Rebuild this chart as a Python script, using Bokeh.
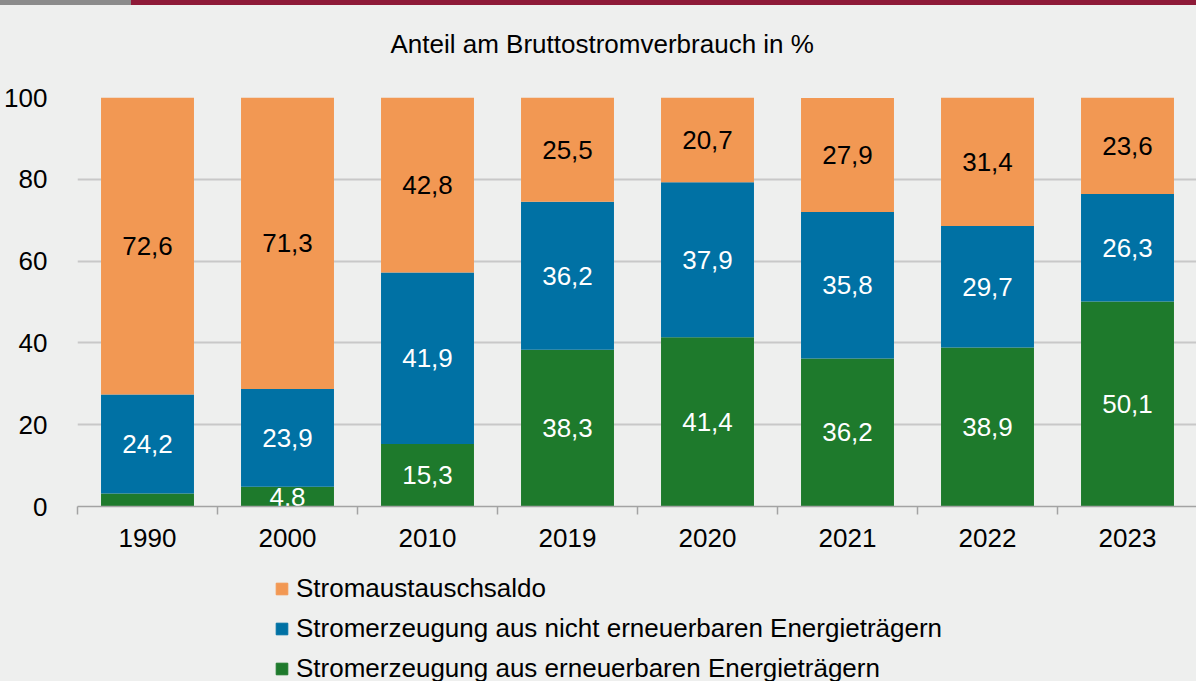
from bokeh.plotting import figure
from bokeh.models import (Range1d, FixedTicker, Legend, LegendItem, ColumnDataSource,
                          Div, Label, GlobalInlineStyleSheet)
from bokeh.layouts import column
from bokeh.embed import file_html
from bokeh.resources import INLINE
from bokeh.core.properties import value

# ---------------- data ----------------
years = ["1990", "2000", "2010", "2019", "2020", "2021", "2022", "2023"]
renewable = [3.2, 4.8, 15.3, 38.3, 41.4, 36.2, 38.9, 50.1]
non_renewable = [24.2, 23.9, 41.9, 36.2, 37.9, 35.8, 29.7, 26.3]
exchange = [72.6, 71.3, 42.8, 25.5, 20.7, 27.9, 31.4, 23.6]
series_names = ["Stromaustauschsaldo",
                "Stromerzeugung aus nicht erneuerbaren Energieträgern",
                "Stromerzeugung aus erneuerbaren Energieträgern"]
title_text = "Anteil am Bruttostromverbrauch in %"
y_ticks = [0, 20, 40, 60, 80, 100]

# ---------------- styles ----------------
BG = "#eeefee"
ORANGE = "#f29853"
BLUE = "#0071a4"
GREEN = "#1e7a2c"
FONT = "Liberation Sans"
FS = "26px"


def blank_fig(h):
    f = figure(width=1196, height=h, x_range=Range1d(0, 1119), y_range=Range1d(0, h),
               output_backend="svg", toolbar_location=None,
               x_axis_type=None, y_axis_type=None,
               min_border_left=0, min_border_right=0, min_border_top=0, min_border_bottom=0,
               background_fill_color=BG, border_fill_color=BG, outline_line_color=None)
    f.xgrid.visible = False
    f.ygrid.visible = False
    return f


# ---------------- title strip ----------------
t = blank_fig(70)
t.add_layout(Label(x=313, y=32, text=title_text, text_font=FONT, text_font_size=FS,
                   text_color="black", text_align="left", text_baseline="middle"))

# ---------------- main chart ----------------
xs = [i + 0.5 for i in range(len(years))]
src = ColumnDataSource(dict(x=xs, years=years, renewable=renewable,
                            non_renewable=non_renewable, exchange=exchange))

p = figure(width=1196, height=485,
           x_range=Range1d(0, 1119 / 140), y_range=Range1d(0, 100),
           output_backend="svg", toolbar_location=None,
           min_border_left=77, min_border_right=0,
           min_border_top=22, min_border_bottom=54,
           background_fill_color=BG, border_fill_color=BG,
           outline_line_color=None)

rs = p.vbar_stack(["renewable", "non_renewable", "exchange"], x="x", width=0.664,
                  color=[GREEN, BLUE, ORANGE], line_color=None, source=src)

# value labels
lx, ly, lt, lc = [], [], [], []
for i in range(len(years)):
    base = 0.0
    for vals, col in ((renewable, "white"), (non_renewable, "white"), (exchange, "black")):
        v = vals[i]
        if v >= 4:
            lx.append(xs[i])
            ly.append(base + v / 2)
            lt.append(f"{v:.1f}".replace(".", ","))
            lc.append(col)
        base += v
lab_src = ColumnDataSource(dict(x=lx, y=ly, text=lt, color=lc))
p.text(x="x", y="y", text="text", text_color="color", source=lab_src,
       text_font=value(FONT), text_font_size=value(FS),
       text_align="center", text_baseline="middle")

# axes
p.yaxis.ticker = FixedTicker(ticks=y_ticks)
p.yaxis.axis_line_color = None
p.yaxis.major_tick_line_color = None
p.yaxis.minor_tick_line_color = None
p.yaxis.major_label_standoff = 24
p.yaxis.major_label_text_font = FONT
p.yaxis.major_label_text_font_size = FS
p.yaxis.major_label_text_color = "black"

p.xaxis.ticker = FixedTicker(ticks=xs, minor_ticks=list(range(len(years))))
p.xaxis.major_label_overrides = {x: y for x, y in zip(xs, years)}
p.xaxis.major_tick_line_color = None
p.xaxis.minor_tick_in = 0
p.xaxis.minor_tick_out = 8
p.xaxis.minor_tick_line_color = "#a3a3a3"
p.xaxis.minor_tick_line_width = 1.5
p.xaxis.axis_line_color = "#a3a3a3"
p.xaxis.axis_line_width = 1.5
p.xaxis.major_label_standoff = 14
p.xaxis.major_label_text_font = FONT
p.xaxis.major_label_text_font_size = FS
p.xaxis.major_label_text_color = "black"

p.xgrid.visible = False
p.ygrid.grid_line_color = "#c8c8c8"
p.ygrid.grid_line_width = 2

# ---------------- legend strip ----------------
q = blank_fig(121)
# swatch proxies (single point kept outside the visible range)
sw = [q.scatter(x=[-100], y=[-100], marker="square", size=12, fill_color=c, line_color=c)
      for c in (ORANGE, BLUE, GREEN)]
legend = Legend(items=[LegendItem(label=n, renderers=[r]) for n, r in zip(series_names, sw)],
                location=(190, -2.5), orientation="vertical",
                glyph_width=29, glyph_height=31, label_height=31,
                spacing=9, padding=0, margin=0, label_standoff=0,
                label_text_font=FONT, label_text_font_size=FS,
                label_text_color="black",
                border_line_color=None, background_fill_alpha=0)
q.add_layout(legend, "center")

band = Div(text="", width=1196, height=5, margin=0,
           styles={"background": "linear-gradient(to right, #8b8b8b 0px, #8b8b8b 131px, #8e1a38 131px, #8e1a38 100%)"})

layout = column(band, t, p, q, spacing=0,
                stylesheets=[GlobalInlineStyleSheet(css="html, body { background-color: #eeefee; }")])

open("out.html", "w").write(file_html(layout, INLINE))
